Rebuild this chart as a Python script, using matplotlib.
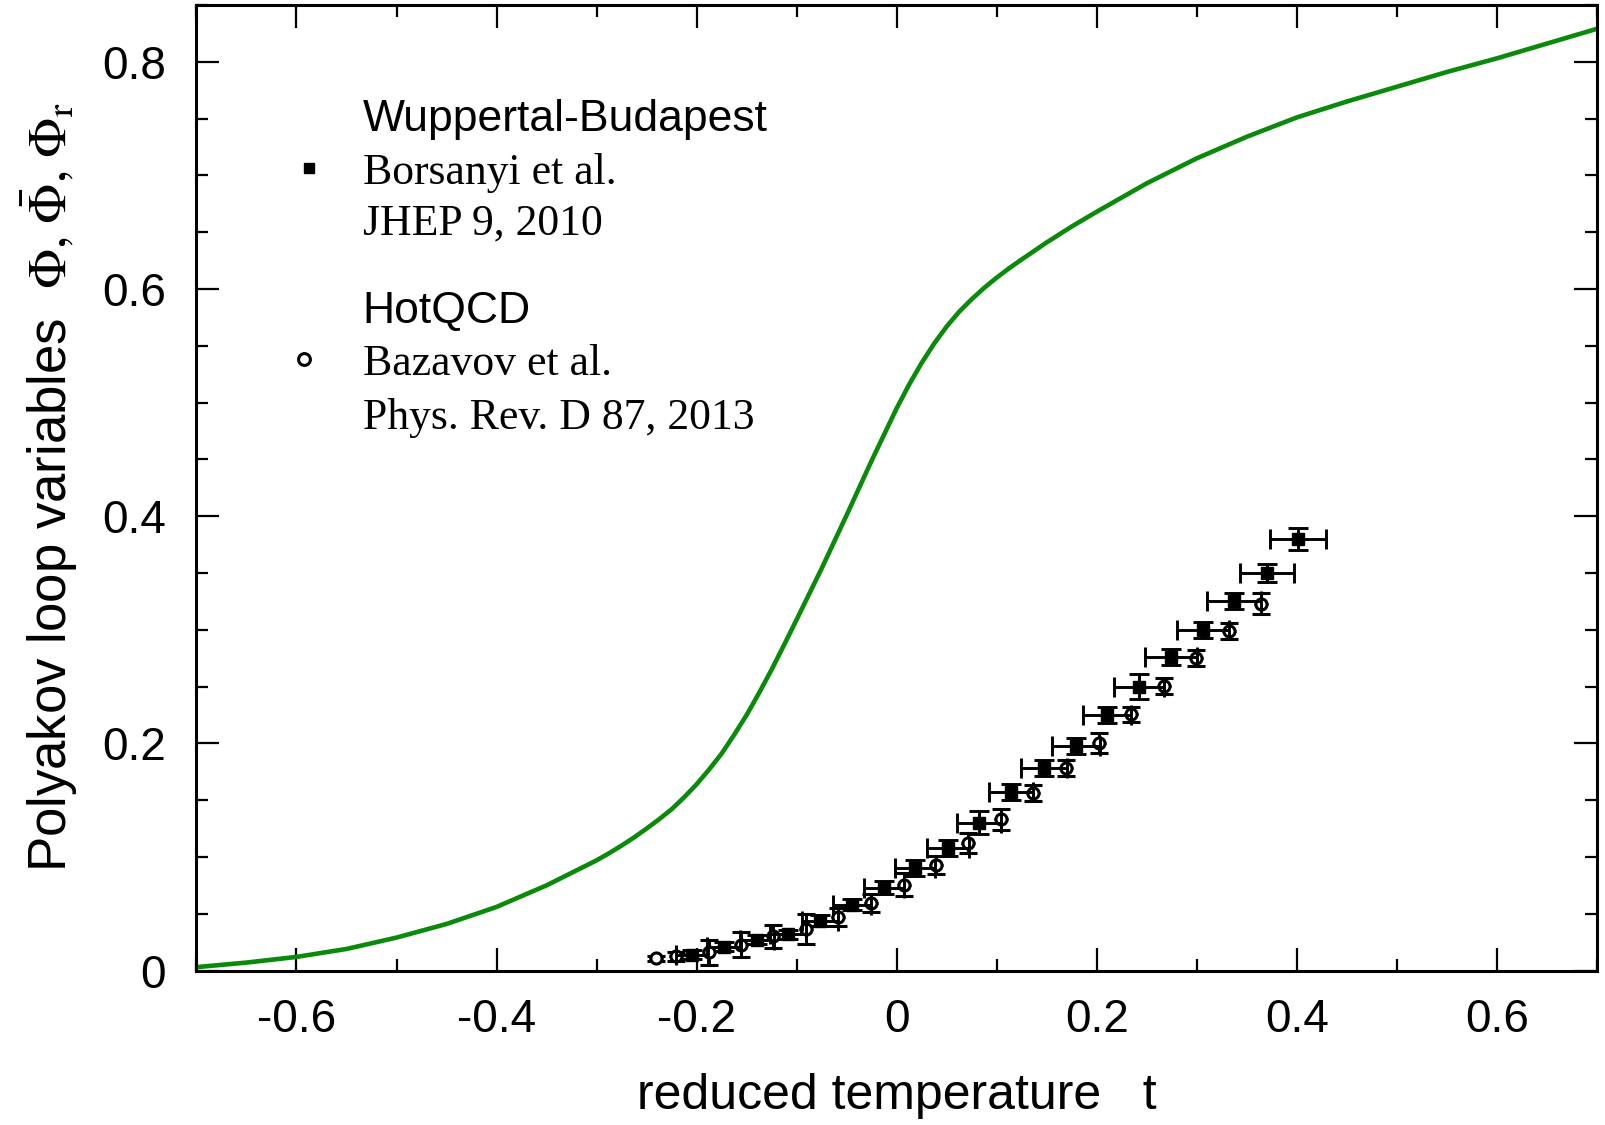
import numpy as np
import matplotlib
matplotlib.use('Agg')
import matplotlib.pyplot as plt
from matplotlib.ticker import MultipleLocator, FuncFormatter

plt.rcParams['font.family'] = ['Liberation Sans', 'DejaVu Sans']
plt.rcParams['mathtext.fontset'] = 'stix'
plt.rcParams['axes.unicode_minus'] = False

# green model curve
t_curve = [-0.70, -0.65, -0.60, -0.55, -0.50, -0.45, -0.40, -0.35, -0.30, -0.2875,
           -0.275, -0.2625, -0.25, -0.2375, -0.225, -0.2125, -0.20, -0.1875, -0.175, -0.1625,
           -0.15, -0.1375, -0.125, -0.1125, -0.10, -0.0875, -0.075, -0.05, -0.025, 0.00,
           0.0125, 0.025, 0.0375, 0.05, 0.0625, 0.075, 0.0875, 0.10, 0.1125, 0.125,
           0.15, 0.175, 0.20, 0.25, 0.30, 0.35, 0.40, 0.45, 0.50, 0.55,
           0.60, 0.65, 0.70]
phi_curve = [0.003, 0.007, 0.012, 0.019, 0.029, 0.041, 0.056, 0.075, 0.097, 0.1033,
             0.110, 0.1172, 0.125, 0.1332, 0.142, 0.1525, 0.164, 0.177, 0.191, 0.2075,
             0.225, 0.2445, 0.265, 0.2868, 0.309, 0.3315, 0.354, 0.401, 0.449, 0.495,
             0.516, 0.535, 0.552, 0.567, 0.580, 0.591, 0.601, 0.610, 0.6183, 0.626,
             0.641, 0.655, 0.668, 0.693, 0.715, 0.734, 0.751, 0.765, 0.778, 0.791,
             0.803, 0.816, 0.829]

# Borsanyi et al. (filled squares)
t_wb = [-0.205, -0.173, -0.140, -0.109, -0.077, -0.045, -0.013, 0.018, 0.051, 0.082,
        0.114, 0.147, 0.179, 0.210, 0.242, 0.274, 0.306, 0.337, 0.370, 0.401]
phi_wb = [0.014, 0.021, 0.027, 0.032, 0.044, 0.058, 0.073, 0.090, 0.108, 0.130,
          0.157, 0.178, 0.198, 0.225, 0.250, 0.276, 0.300, 0.325, 0.350, 0.380]
dphi_wb = [0.004, 0.004, 0.004, 0.004, 0.005, 0.005, 0.006, 0.007, 0.007, 0.010,
           0.007, 0.007, 0.007, 0.007, 0.011, 0.007, 0.007, 0.007, 0.008, 0.010]
dt_wb = [0.016, 0.017, 0.017, 0.018, 0.018, 0.019, 0.020, 0.020, 0.021, 0.022,
         0.022, 0.023, 0.024, 0.024, 0.025, 0.026, 0.026, 0.027, 0.027, 0.028]

# Bazavov et al. (open circles)
t_hq = [-0.241, -0.221, -0.188, -0.156, -0.124, -0.091, -0.059, -0.026, 0.007, 0.039,
        0.071, 0.104, 0.136, 0.169, 0.202, 0.234, 0.267, 0.299, 0.332, 0.364]
phi_hq = [0.0106, 0.0126, 0.0161, 0.0229, 0.0302, 0.0367, 0.0473, 0.0596, 0.0757, 0.0927,
          0.1124, 0.133, 0.156, 0.1785, 0.2005, 0.2254, 0.2503, 0.2753, 0.2988, 0.323]
dphi_hq = [0.002, 0.004, 0.011, 0.011, 0.010, 0.013, 0.008, 0.008, 0.010, 0.008,
           0.009, 0.009, 0.007, 0.007, 0.009, 0.007, 0.007, 0.007, 0.007, 0.0095]
dt_hq = [0.007] * 20

fig = plt.figure(figsize=(16.05, 11.25), dpi=100)
ax = fig.add_axes([0.1224, 0.1373, 0.8726, 0.8583])

ax.plot(t_curve, phi_curve, color='#0a8a0a', lw=3.3, zorder=2,
        solid_joinstyle='round', solid_capstyle='round')

ax.errorbar(t_hq, phi_hq, xerr=dt_hq, fmt='none', ecolor='black', elinewidth=2.1, capsize=0, zorder=3)
ax.errorbar(t_hq, phi_hq, yerr=dphi_hq, fmt='o', ms=8, mfc='white', mec='black', mew=2.2,
            ecolor='black', elinewidth=2.1, capsize=6.5, capthick=2.1, zorder=3)
ax.errorbar(t_wb, phi_wb, xerr=dt_wb, yerr=dphi_wb, fmt='s', ms=8.5, mfc='black', mec='black',
            ecolor='black', elinewidth=2.1, capsize=7, capthick=2.1, zorder=4)

# legend block
sans = ['Liberation Sans', 'DejaVu Sans']
serif = ['Liberation Serif', 'DejaVu Serif']
lx = -0.534
ax.text(lx, 0.7495, 'Wuppertal-Budapest', family=sans, fontsize=32, va='center')
ax.text(lx, 0.702, 'Borsanyi et al.', family=serif, fontsize=31.5, va='center')
ax.text(lx, 0.6575, 'JHEP 9, 2010', family=serif, fontsize=31.5, va='center')
ax.text(lx, 0.5805, 'HotQCD', family=sans, fontsize=32, va='center')
ax.text(lx, 0.5335, 'Bazavov et al.', family=serif, fontsize=31.5, va='center')
ax.text(lx, 0.486, 'Phys. Rev. D 87, 2013', family=serif, fontsize=31.5, va='center')
ax.plot([-0.587], [0.7065], 's', ms=7.5, color='black')
ax.plot([-0.592], [0.538], 'o', ms=8.5, mfc='white', mec='black', mew=2.2)

ax.set_xlim(-0.7, 0.7)
ax.set_ylim(0, 0.85)
ax.xaxis.set_major_locator(MultipleLocator(0.2))
ax.xaxis.set_minor_locator(MultipleLocator(0.1))
ax.yaxis.set_major_locator(MultipleLocator(0.2))
ax.yaxis.set_minor_locator(MultipleLocator(0.05))
fmt = FuncFormatter(lambda v, p: '0' if abs(v) < 1e-9 else '%g' % round(v, 2))
ax.xaxis.set_major_formatter(fmt)
ax.yaxis.set_major_formatter(fmt)

ax.tick_params(which='both', direction='in', top=True, right=True, width=1.6, labelsize=33)
ax.tick_params(which='major', length=16.5)
ax.tick_params(which='minor', length=8.5)
ax.tick_params(axis='x', pad=20)
ax.tick_params(axis='y', pad=22)
for s in ax.spines.values():
    s.set_linewidth(2.2)

ax.set_xlabel('reduced temperature   t', fontsize=36, labelpad=22)
ax.set_ylabel(r'Polyakov loop variables  $\Phi,\!\;\bar{\Phi},\!\;\Phi_{\mathrm{r}}$',
              fontsize=38, labelpad=16)

fig.savefig('out.png', dpi=100)
